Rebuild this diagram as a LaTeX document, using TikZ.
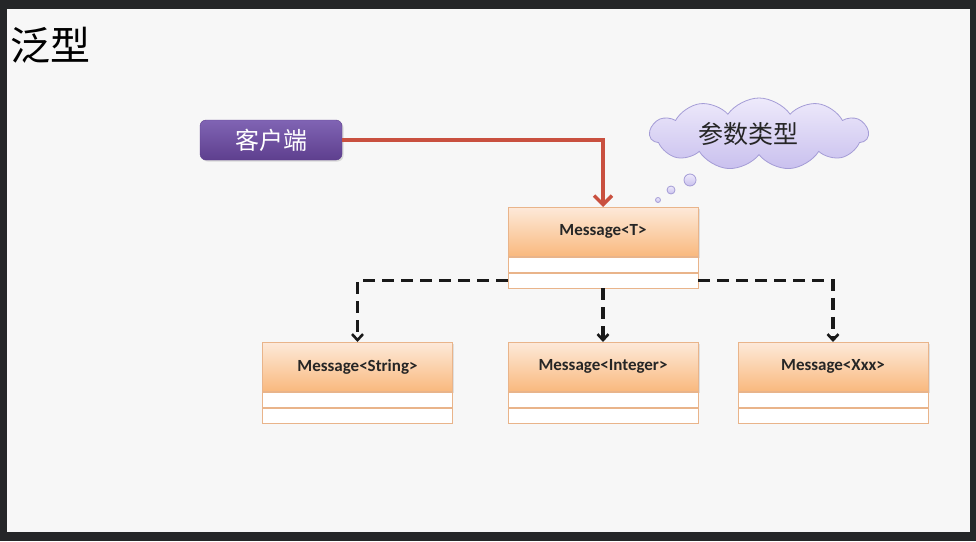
\documentclass[tikz,border=0pt]{standalone}
\usepackage{fontspec}
\setmainfont{Carlito}
\newfontfamily\cjk{Noto Sans CJK SC}
\usetikzlibrary{arrows.meta,shapes.symbols,shadows,calc}
\definecolor{frame}{HTML}{252628}
\definecolor{slide}{HTML}{F7F7F7}
\definecolor{hdrtop}{HTML}{FDE9D9}
\definecolor{hdrbot}{HTML}{F9B97E}
\definecolor{boxline}{HTML}{E9B48A}
\definecolor{purtop}{HTML}{8064B4}
\definecolor{purbot}{HTML}{5E3F8E}
\definecolor{redline}{HTML}{C9503F}
\definecolor{cloudtop}{HTML}{EEEAFB}
\definecolor{cloudbot}{HTML}{C9C0EE}
\definecolor{cloudline}{HTML}{A49CD6}
\tikzset{
  hdr/.style={draw=boxline, line width=0.8pt, top color=hdrtop, bottom color=hdrbot,
    minimum width=190pt, minimum height=49pt, inner sep=0pt, anchor=north,
    font=\bfseries\fontsize{17}{19}\selectfont, text=black!85,
    drop shadow={opacity=0.2, shadow xshift=1.5pt, shadow yshift=-1.5pt}},
  comp/.style={draw=boxline, line width=0.8pt, fill=white, minimum width=190pt,
    minimum height=15pt, inner sep=0pt, anchor=north},
  dashconn/.style={line width=3.2pt, dash pattern=on 12pt off 7pt, black!90,
    -{Straight Barb[length=6pt,width=11pt,line width=2.6pt]}},
  redarrow/.style={line width=4pt, redline,
    -{Straight Barb[length=9pt,width=18pt,line width=3.5pt]}},
  bubble/.style={circle, draw=cloudline, line width=0.8pt, top color=cloudtop, bottom color=cloudbot, inner sep=0pt},
}
\begin{document}
\begin{tikzpicture}[x=1pt,y=-1pt]
\useasboundingbox (0,0) rectangle (976,541);
\fill[frame] (0,0) rectangle (976,541);
\fill[slide] (7,9) rectangle (970,532);
\node[anchor=west, inner sep=0pt, font=\cjk\fontsize{40}{42}\selectfont] (title) at (10,45) {泛型};
% client
\node[rounded corners=6pt, top color=purtop, bottom color=purbot, draw=purbot,
  minimum width=142pt, minimum height=40pt, inner sep=0pt, text=white,
  font=\cjk\fontsize{24}{26}\selectfont,
  drop shadow={opacity=0.25, shadow xshift=1.5pt, shadow yshift=-1.5pt}] (client) at (271,140) {客户端};
% cloud
\node[cloud, cloud puffs=11, cloud puff arc=110, cloud ignores aspect, draw=cloudline, line width=0.8pt,
  top color=cloudtop, bottom color=cloudbot, minimum width=218pt, minimum height=72pt, inner sep=0pt] (cloud) at (759,134) {};
\node[font=\cjk\fontsize{25}{27}\selectfont, text=black!85, inner sep=0pt] (cloudtext) at (748,134) {参数类型};
\node[bubble, minimum size=12pt] (b1) at (690,180) {};
\node[bubble, minimum size=8pt] (b2) at (671,190) {};
\node[bubble, minimum size=5pt] (b3) at (658,200) {};
% classes
\node[hdr] (Th) at (603,207) {Message<T>};
\node[comp] (Tc1) at (Th.south) {};
\node[comp] (Tc2) at (Tc1.south) {};
\node[hdr] (Sh) at (357.5,342) {Message<String>};
\node[comp] (Sc1) at (Sh.south) {};
\node[comp] (Sc2) at (Sc1.south) {};
\node[hdr] (Ih) at (603,342) {Message<Integer>};
\node[comp] (Ic1) at (Ih.south) {};
\node[comp] (Ic2) at (Ic1.south) {};
\node[hdr] (Xh) at (833,342) {Message<Xxx>};
\node[comp] (Xc1) at (Xh.south) {};
\node[comp] (Xc2) at (Xc1.south) {};
\draw[dashconn] (Tc2.west) -| (Sh.north);
\draw[dashconn] (Tc2.east) -| (Xh.north);
\draw[dashconn] (Tc2.south) -- (Ih.north);
\draw[redarrow] (client.east) -| (Th.north);
\end{tikzpicture}
\end{document}
